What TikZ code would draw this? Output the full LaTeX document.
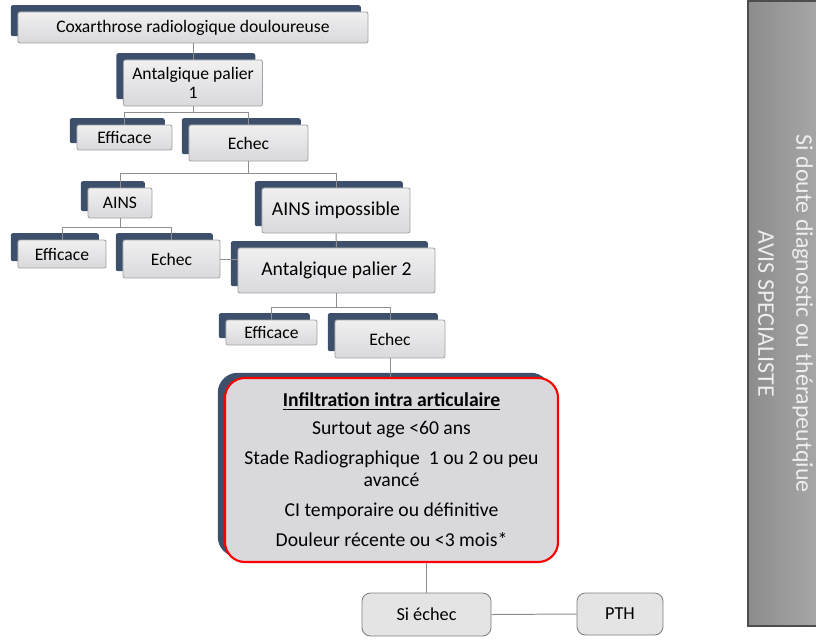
\documentclass[tikz,border=0pt]{standalone}
\usepackage{fontspec}
\setmainfont{Carlito}
\usepackage{tikz}
\usetikzlibrary{positioning,shadows,calc}

\definecolor{navy}{HTML}{3D506B}
\definecolor{cardline}{HTML}{A3A3A6}
\definecolor{cardtop}{HTML}{F0F0F1}
\definecolor{cardbot}{HTML}{D9D9DC}
\definecolor{linkgray}{HTML}{8E8E8E}
\definecolor{plainfill}{HTML}{E4E4E5}
\definecolor{plainline}{HTML}{808080}
\definecolor{panelL}{HTML}{8C8C8C}
\definecolor{panelR}{HTML}{A9A9A9}
\definecolor{paneledge}{HTML}{4D4D4D}
\definecolor{avisfont}{HTML}{EEEEEE}
\definecolor{infilfill}{HTML}{D9D9DD}

\begin{document}
\begin{tikzpicture}[x=0.025cm, y=-0.025cm, line width=0.6pt,
	card/.style={draw=cardline, top color=cardtop, bottom color=cardbot, rounded corners=1.5pt, inner sep=1pt, align=center,
		copy shadow={shadow xshift=-0.18cm, shadow yshift=0.17cm, fill=navy, draw=none}},
	small/.style={font=\fontsize{12.5}{13}\selectfont},
	big/.style={font=\fontsize{14}{15.6}\selectfont},
	plain/.style={draw=plainline, fill=plainfill, rounded corners=6pt, font=\fontsize{13}{15}\selectfont},
	link/.style={draw=linkgray, line width=0.7pt}]
	
	\useasboundingbox (0,0) rectangle (816,639);
	
	\node [card, small, minimum width=8.75cm, minimum height=0.775cm] (cox) at (193,27.5) {Coxarthrose radiologique douloureuse};
	\node [card, small, minimum width=3.475cm, minimum height=1.15cm] (ant1) at (193,83) {Antalgique palier\\1};
	
	\node [card, small, minimum width=2.375cm, minimum height=0.625cm] (eff1) at (124.5,137.5) {Efficace};
	\node [card, small, minimum width=2.975cm, minimum height=0.9cm] (ech1) at (248.5,143) {Echec};
	
	\node [card, small, minimum width=1.6cm, minimum height=0.75cm] (ains) at (120,203) {AINS};
	\node [card, big, minimum width=3.7cm, minimum height=1.125cm] (ainsimp) at (336,210.5) {AINS impossible};
	
	\node [card, small, minimum width=2.2cm, minimum height=0.7cm] (eff2) at (62,254) {Efficace};
	\node [card, small, minimum width=2.425cm, minimum height=0.95cm] (ech2) at (171.5,259) {Echec};
	\node [card, big, minimum width=4.925cm, minimum height=1.125cm] (ant2) at (336.5,270.5) {Antalgique palier 2};
	
	\node [card, small, minimum width=2.275cm, minimum height=0.625cm] (eff3) at (271.5,332.5) {Efficace};
	\node [card, small, minimum width=2.75cm, minimum height=0.95cm] (ech3) at (390,339) {Echec};
	
	\node [draw=red, line width=1.5pt, fill=infilfill, rounded corners=0.5cm, big, align=center,
		minimum width=8.325cm, minimum height=4.6cm,
		copy shadow={shadow xshift=-0.18cm, shadow yshift=0.13cm, fill=navy, draw=none}] (infil) at (391.5,470)
		{\textbf{\underline{Infiltration intra articulaire}}\\[4.3pt]
		Surtout age <60 ans\\[5.7pt]
		Stade Radiographique\ \ 1 ou 2 ou peu\\
		avancé\\[5.7pt]
		CI temporaire ou définitive\\[5.7pt]
		Douleur récente ou <3 mois*};
	
	\node [plain, minimum width=3.225cm, minimum height=1.075cm] (siechec) at (426.5,614.5) {Si échec};
	\node [plain, minimum width=2.15cm, minimum height=1.05cm] (pth) at (620,614) {PTH};
	
	% bandeau lateral
	\node [draw=paneledge, line width=1.5pt, left color=panelL, right color=panelR, minimum width=1.875cm, minimum height=15.625cm,
		anchor=north west, inner sep=0pt] (avis) at (747,0) {};
	\node [rotate=-90, align=center, text=avisfont, font=\fontsize{17}{27}\selectfont] (avistxt) at (avis.center)
		{Si doute diagnostic ou thérapeutqiue\\AVIS SPECIALISTE};
	
	% liaisons
	\draw [link] (cox.south) -- (ant1.north);
	\draw [link] (ant1.south) -- ++(0,6) coordinate (j1);
	\draw [link] (eff1.north) |- (j1) -| (ech1.north);
	
	\draw [link] (ech1.south) -- ++(0,12) coordinate (j2);
	\draw [link] (ains.north) |- (j2) -| (ainsimp.north);
	
	\draw [link] (ains.south) -- ++(0,9) coordinate (j3);
	\draw [link] (eff2.north) |- (j3) -| (ech2.north);
	
	\draw [link] (ainsimp.south) -- (ant2.north);
	\draw [link] (ech2.east) -- (ech2.east -| ant2.west);
	
	\draw [link] (ant2.south) -- ++(0,14) coordinate (j4);
	\draw [link] (eff3.north) |- (j4) -| (ech3.north);
	
	\draw [link] (ech3.south) -- (ech3.south |- infil.north);
	\draw [link] (siechec.north) -- (siechec.north |- infil.south);
	\draw [link] (siechec.east) -- (pth.west);
\end{tikzpicture}
\end{document}
